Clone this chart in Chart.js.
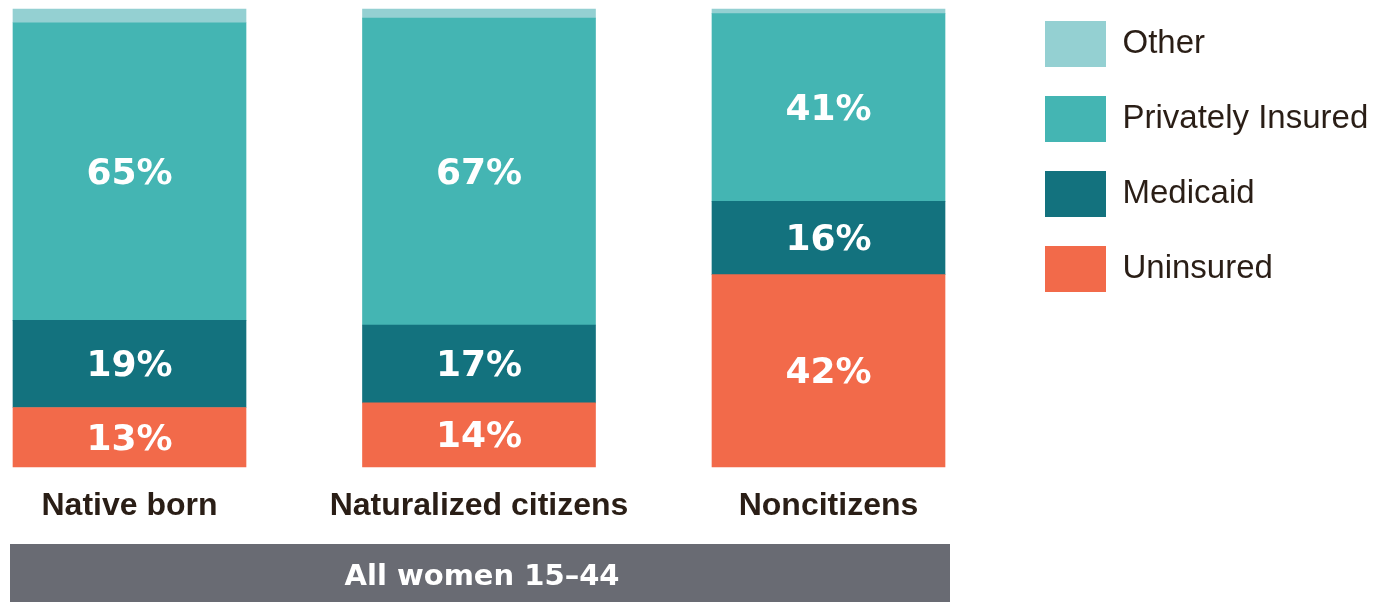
<!DOCTYPE html>
<html>
<head>
<meta charset="utf-8">
<script src="https://cdn.jsdelivr.net/npm/chart.js@4"></script>
<style>
  html, body { margin: 0; padding: 0; background: #ffffff; }
  #wrap { width: 1381px; height: 602px; }
</style>
</head>
<body>
<div id="wrap"><canvas id="insChart"></canvas></div>
<script>
var categories = ["Native born", "Naturalized citizens", "Noncitizens"];
var uninsured = [13, 14, 42];
var medicaid = [19, 17, 16];
var privatelyInsured = [65, 67, 41];
var other = [3, 2, 1];
var groupLabel = "All women 15\u201344";

var labelColor = "#2a1e16";

// white % labels inside the bars (not for "Other")
var valueLabels = {
  id: "valueLabels",
  afterDatasetsDraw: function (chart) {
    var ctx = chart.ctx;
    ctx.save();
    ctx.fillStyle = "#ffffff";
    ctx.font = "bold 36px 'DejaVu Sans'";
    ctx.textAlign = "center";
    ctx.textBaseline = "middle";
    chart.data.datasets.forEach(function (ds, i) {
      if (ds.label === "Other") return;
      chart.getDatasetMeta(i).data.forEach(function (bar, j) {
        var y = (bar.y + bar.base) / 2;
        ctx.fillText(ds.data[j] + "%", bar.x, y + 3);
      });
    });
    ctx.restore();
  },
};

// grey band under the categories
var groupBand = {
  id: "groupBand",
  afterDraw: function (chart) {
    var ctx = chart.ctx;
    var bars = chart.getDatasetMeta(0).data;
    var first = bars[0], last = bars[bars.length - 1];
    var left = first.x - first.width / 2 - 3;
    var right = last.x + last.width / 2 + 5;
    var top = 544, bottom = chart.height;
    ctx.save();
    ctx.fillStyle = "#696b73";
    ctx.fillRect(left, top, right - left, bottom - top);
    ctx.fillStyle = "#ffffff";
    ctx.font = "bold 29px 'DejaVu Sans'";
    ctx.textAlign = "center";
    ctx.textBaseline = "middle";
    ctx.fillText(groupLabel, (left + right) / 2 + 2, (top + bottom) / 2 + 4);
    ctx.restore();
  },
};

// move the legend to the right hand side
var legendSpot = {
  id: "legendSpot",
  afterLayout: function (chart) {
    var lg = chart.legend;
    lg.left = 1016;
    lg.top = -8;
    lg.right = chart.width;
    lg.bottom = chart.height;
  },
};

var data = {
  labels: categories,
  datasets: [
    { label: "Uninsured", data: uninsured, backgroundColor: "#f26a4a" },
    { label: "Medicaid", data: medicaid, backgroundColor: "#13727e" },
    { label: "Privately Insured", data: privatelyInsured, backgroundColor: "#44b5b3" },
    { label: "Other", data: other, backgroundColor: "#94d0d2" },
  ],
};

var options = {
  responsive: true,
  maintainAspectRatio: false,
  animation: false,
  layout: {
    padding: { top: 9, left: 129.5, right: 552.5, bottom: 56.6 },
  },
  datasets: {
    bar: { barThickness: 233, borderWidth: 0, clip: false },
  },
  scales: {
    x: {
      stacked: true,
      offset: false,
      grid: { display: false, drawTicks: false },
      border: { display: false },
      ticks: {
        color: labelColor,
        padding: 20,
        maxRotation: 0,
        autoSkip: false,
        font: { family: "'Liberation Sans', Arial", size: 32, weight: "bold" },
      },
    },
    y: {
      stacked: true,
      display: false,
      min: 0,
      max: 100,
    },
  },
  plugins: {
    legend: {
      display: true,
      position: "chartArea",
      align: "start",
      reverse: true,
      labels: {
        boxWidth: 61,
        boxHeight: 46,
        padding: 29,
        color: labelColor,
        font: { family: "'Liberation Sans', Arial", size: 33 },
      },
    },
    tooltip: { enabled: false },
  },
};

var ctx = document.getElementById("insChart").getContext("2d");
var insChart = new Chart(ctx, {
  type: "bar",
  data: data,
  options: options,
  plugins: [valueLabels, groupBand, legendSpot],
});
</script>
</body>
</html>
